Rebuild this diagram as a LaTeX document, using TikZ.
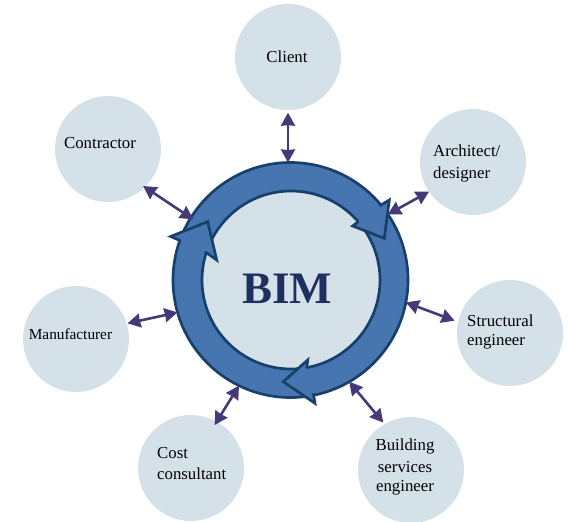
\documentclass[tikz,border=0pt]{standalone}
\usepackage{fontspec}
\setmainfont{Liberation Serif}
\usetikzlibrary{arrows.meta}
\definecolor{pale}{HTML}{D5E1E9}
\definecolor{ringblue}{HTML}{4675B0}
\definecolor{ringline}{HTML}{17406B}
\definecolor{linkcol}{HTML}{453A78}
\definecolor{bimcol}{HTML}{1F2F5F}
\tikzset{
  actor/.style={circle,fill=pale,minimum size=106pt,inner sep=0pt,outer sep=0pt},
  lab/.style={font=\fontsize{16.8}{16.8}\selectfont,text=black,inner sep=0pt,align=left},
  link/.style={linkcol,line width=2.6pt,{Stealth[length=13pt,width=14pt,inset=0.5pt]}-{Stealth[length=13pt,width=14pt,inset=0.5pt]}},
  ringstroke/.style={draw=ringline,line width=2.7pt,line join=miter},
  headshape/.style={ringstroke,fill=ringblue}
}
\begin{document}
\begin{tikzpicture}[x=1pt,y=-1pt]
\useasboundingbox (0,0) rectangle (568,522);
% satellites
\node[actor] (client) at (288,57) {};
\node[actor] (contractor) at (108,149) {};
\node[actor] (architect) at (473,162) {};
\node[actor] (structural) at (510,333) {};
\node[actor] (building) at (411,470) {};
\node[actor] (cost) at (191,468) {};
\node[actor] (manufacturer) at (76,339) {};
% labels
\node[lab] (tclient) at (287,56.7) {Client};
\node[lab] (tcontractor) at (100,142.7) {Contractor};
\node[lab,anchor=west] (tarch1) at (433,150.7) {Architect/};
\node[lab,anchor=west] (tarch2) at (433,174.7) {designer};
\node[lab,anchor=west] (tstruct1) at (467,320.5) {Structural};
\node[lab,anchor=west] (tstruct2) at (467,341.7) {engineer};
\node[lab] (tb1) at (405,446.7) {Building};
\node[lab] (tb2) at (405,466.7) {services};
\node[lab] (tb3) at (405,487.7) {engineer};
\node[lab,anchor=west] (tc1) at (157,452.7) {Cost};
\node[lab,anchor=west] (tc2) at (157,473.7) {consultant};
\node[lab,font=\fontsize{15.3}{15.3}\selectfont] (tman) at (70.5,334.5) {Manufacturer};
% ring
\node[circle,ringstroke,fill=ringblue,minimum size=235pt,inner sep=0pt,outer sep=0pt] (hub) at (290.5,280) {};
\node[circle,ringstroke,fill=pale,minimum size=178pt,inner sep=0pt,outer sep=0pt] (core) at (291,280) {};
\node[inner sep=0pt,text=bimcol,font=\fontsize{45}{45}\selectfont\bfseries] (bimtext) at (287,289) {BIM};
% arrow heads
\draw[headshape] (379.3,206) -- (389.3,200) -- (384.3,238.3) -- (352.7,226) -- (358.3,221.7);
\draw[headshape] (306.7,368.3) -- (307.7,360) -- (283.3,381.7) -- (315,403.3) -- (313.3,393.3);
\draw[headshape] (181,241) -- (170.7,236.5) -- (207.7,221.7) -- (216.7,260) -- (205,251.7);
% connectors
\draw[link,shorten <=2.7pt] (client.south) -- (hub.north -| client.south);
\draw[link,shorten <=-2pt,shorten >=-2.8pt] (contractor.-46.3) -- (hub.148.5);
\draw[link] (architect.214.6) -- (hub.34.7);
\draw[link,shorten <=3.8pt] (structural.168.5) -- (hub.-11.5);
\draw[link,shorten <=2pt] (building.120.9) -- (hub.-60.5);
\draw[link,shorten <=-4pt] (cost.61.9) -- (hub.-116.3);
\draw[link,shorten <=0.8pt] (manufacturer.17.6) -- (hub.-164);
\end{tikzpicture}
\end{document}
